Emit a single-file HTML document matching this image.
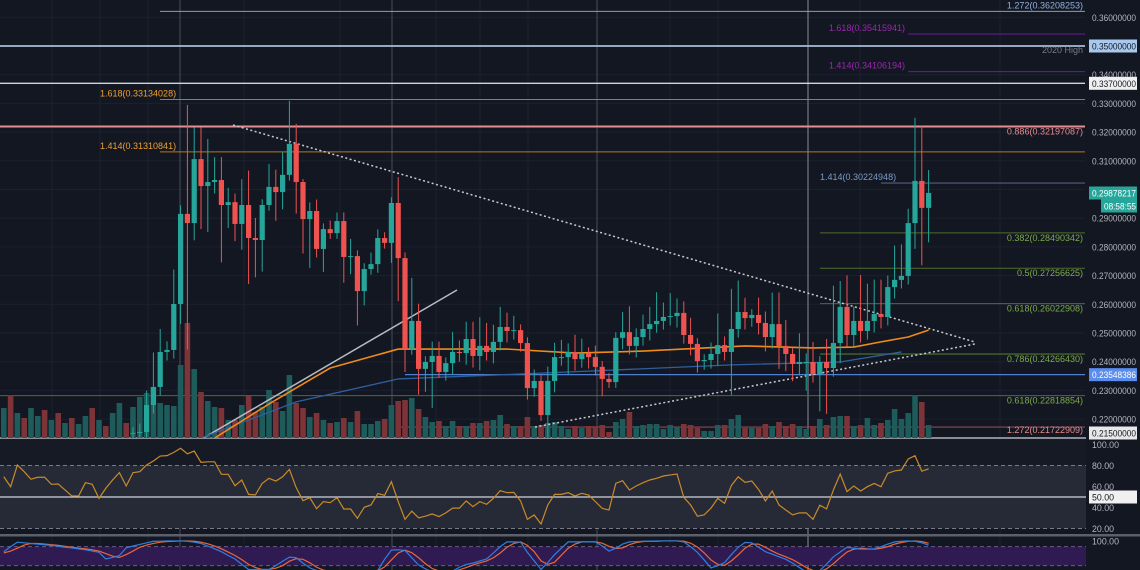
<!DOCTYPE html>
<html><head><meta charset="utf-8">
<style>
html,body{margin:0;padding:0;background:#131722;width:1140px;height:570px;overflow:hidden}
svg{display:block;font-family:"Liberation Sans",sans-serif}
</style></head>
<body>
<svg id="chart" width="1140" height="570" viewBox="0 0 1140 570" xmlns="http://www.w3.org/2000/svg">
<rect x="0" y="0" width="1140" height="570" fill="#131722"/>
<defs><clipPath id="mainClip"><rect x="0" y="0" width="1086" height="438"/></clipPath></defs>
<g id="grid"></g>
<g id="rsiPane"></g>
<g id="stochPane"></g>
<g id="levels"></g>
<g id="main" clip-path="url(#mainClip)"></g>
<g id="axis"></g>
</svg>
<script>
const firstOpen = 0.2150;
const closes = [.2152,.2155,.2249,.2312,.2434,.2441,.2601,.2915,.2883,.3106,
.3012,.3026,.3033,.2946,.2956,.2880,.2946,.2831,.2824,.2946,
.3009,.2991,.3051,.3159,.3026,.2897,.2925,.2793,.2862,.2848,
.2890,.2765,.2768,.2646,.2723,.2740,.2831,.2814,.2953,.2761,
.2444,.2542,.2375,.2399,.2420,.2364,.2395,.2434,.2430,.2479,
.2420,.2455,.2434,.2469,.2521,.2507,.2510,.2465,.2308,.2333,
.2214,.2333,.2416,.2416,.2434,.2409,.2430,.2416,.2382,.2340,
.2329,.2483,.2503,.2455,.2486,.2514,.2531,.2542,.2556,.2559,
.2570,.2493,.2462,.2402,.2406,.2427,.2458,.2434,.2514,.2573,
.2552,.2563,.2535,.2486,.2531,.2455,.2427,.2392,.2399,.2399,
.2357,.2399,.2378,.2465,.2591,.2493,.2542,.2507,.2542,.2566,
.2556,.2660,.2685,.2699,.2883,.3030,.2936,.2988];
const wickUp = [2,3,5,12,8,3,12,3,38,11,11,15,8,8,5,3,9,12,7,2,8,6,8,15,7,1,3,4,2,3,3,3,6,2,2,4,3,2,2,9,2,15,6,2,5,5,2,7,4,6,6,10,8,6,7,5,5,2,2,4,2,5,5,6,3,6,5,2,4,2,2,2,7,9,3,5,6,10,5,8,5,4,6,2,2,4,11,3,14,11,5,2,6,4,11,11,9,2,10,3,7,2,8,20,9,11,5,16,13,12,12,4,12,11,5,22,19,8];
const wickDn = [3,3,3,3,3,3,3,7,44,6,15,16,4,20,8,6,9,16,13,11,2,10,6,2,11,12,17,3,8,2,2,9,6,12,5,2,3,2,7,15,8,2,9,8,16,2,3,4,3,4,4,5,3,4,3,4,3,3,4,3,2,12,4,3,6,4,3,4,3,6,2,2,4,3,4,3,4,3,3,3,4,3,4,4,3,3,4,3,15,3,4,3,4,5,4,8,6,6,4,10,3,13,16,3,7,4,4,4,3,4,4,3,4,3,3,9,20,12];
const volumes = [31,41,45,51,35,33,32,73,115,69,46,37,31,30,18,18,33,42,26,31,48,36,27,63,35,30,21,25,18,15,16,20,16,27,14,14,17,19,33,37,38,40,29,21,
16,17,12,17,12,12,15,15,17,18,23,14,12,12,21,12,13,15,16,12,9,12,10,12,12,13,6,16,19,26,12,13,14,14,9,13,11,14,13,10,7,7,13,13,19,23,10,10,10,14,12,16,12,14,12,9,12,19,13,21,
22,22,12,13,20,13,15,18,29,19,25,43,36,13];
const preVolumes = [30,43,25,20,30,22,28,18,25,15,20,14,22,30,18,12,25,35,15];
const preDir = [1,-1,1,-1,1,1,-1,1,-1,1,-1,1,1,-1,1,-1,1,1,-1];
const emaIdx = [12,20,29,39,55,65,75,90,100,106,110,114,117];
const emaVals = [.2134,.2253,.2378,.2444,.2444,.2430,.2437,.2455,.2448,.2451,.2469,.2486,.2510];
const smaIdx = [10,24,39,64,88,104,113];
const smaVals = [.2134,.2260,.2340,.2364,.2389,.2399,.2434];
const rsiVals = [69.3,59.8,80.5,74.1,66.9,68.8,68.8,62.1,62.4,56.7,51.0,51.0,63.6,62.1,48.7,58.3,66.2,73.2,60.5,73.2,
74.1,80.5,84.3,89.0,89.4,92.5,96.4,91.1,93.8,83.0,83.5,83.5,71.6,71.6,60.8,66.2,52.5,52.0,63.0,67.8,
65.2,69.3,76.3,58.9,46.5,49.4,38.9,45.6,44.6,49.4,38.6,38.6,29.7,40.2,42.4,53.3,51.6,64.6,45.6,28.7,
36.5,30.2,31.7,33.9,31.4,34.9,39.4,39.4,
46.2,40.8,45.6,43.0,48.7,56.0,54.1,54.4,46.2,28.7,32.9,24.3,42.4,52.5,52.5,54.1,51.0,53.5,51.9,45.6,
39.2,37.6,63.0,65.5,56.7,60.5,63.6,66.2,67.8,70.0,71.0,71.9,49.7,42.4,31.7,33.0,39.4,48.7,44.0,61.0,
69.3,64.0,65.2,57.2,46.2,55.7,42.4,37.6,33.0,34.9,34.9,28.7,42.2,38.7,56.7,71.9,55.1,60.5,55.7,59.8,
62.9,59.8,72.6,74.8,75.7,86.2,89.3,74.6,76.8];
const stochK = [64,80,94,92,90,88,86,84,81,78,76,73,70,66,62,41,46,52,76,82,87,92,97,97,98,98,98,97,94,90,82,73,64,52,41,24,8,8,8,8,20,34,47,45,28,13,5,0,0,0,0,0,0,2,4,5,40,69,70,68,45,22,10,0,0,2,3,15,24,28,35,41,60,80,95,95,94,62,35,8,30,55,75,95,95,95,95,95,82,66,75,88,95,96,97,97,98,98,98,98,95,80,62,38,13,20,30,55,78,93,92,78,64,56,48,40,28,14,0,2,5,25,48,63,78,75,72,72,73,80,88,95,97,98,97,92,85];
const stochD = [60,66,75,85,90,90,88,86,84,81,78,75,73,70,66,58,50,46,55,66,78,85,90,94,96,97,98,98,97,94,89,82,73,63,52,39,24,14,8,8,12,20,34,42,40,29,15,6,2,0,0,0,0,1,2,4,16,38,60,69,61,45,26,11,3,1,2,7,14,22,29,35,45,60,78,90,95,84,64,35,24,31,53,75,88,95,95,95,91,81,74,76,86,93,96,97,97,98,98,98,97,91,79,60,38,24,21,35,54,75,88,88,78,66,56,48,39,27,14,5,2,10,26,45,63,72,75,73,72,75,80,88,93,97,98,96,91];
const priceTicks = [0.36,0.34,0.33,0.32,0.31,0.29,0.28,0.27,0.26,0.25,0.24,0.23,0.22];
const rsiTicks = [100,80,60,40,20];

const NS='http://www.w3.org/2000/svg';
const yP = p => 46 + (0.35 - p) * 2870;
const xC = i => 133 + i * 6.8;
const xAll = i => 3.8 + i * 6.8;
const yR = v => 497 - (v - 50) * 1.05;
const yS = v => 572 - v * 0.317;
function mk(tag, attrs, parent){const e=document.createElementNS(NS,tag);for(const k in attrs)e.setAttribute(k,attrs[k]);parent.appendChild(e);return e;}
const G=id=>document.getElementById(id);
const grid=G('grid'),main=G('main'),levels=G('levels'),axis=G('axis'),rsiPane=G('rsiPane'),stochPane=G('stochPane');

[0.36,0.35,0.34,0.33,0.32,0.31,0.30,0.29,0.28,0.27,0.26,0.25,0.24,0.23,0.22].forEach(p=>{
  const l=mk('line',{x1:0,x2:1085,y1:yP(p),y2:yP(p),stroke:'#1c2030','stroke-width':1},grid);
  
  
});
[52,100,148,244,340,436,480,528,670,718,860,1000].forEach(x=>{
  const l=mk('line',{x1:x,x2:x,y1:0,y2:570,stroke:'#1c2030','stroke-width':1},grid);
  
  
});
[[180,'#4a4e5a'],[392,'#4a4e5a'],[597,'#4a4e5a'],[808,'#8a8d96']].forEach(v=>{
  const l=mk('line',{x1:v[0],x2:v[0],y1:0,y2:570,stroke:v[1],'stroke-width':1},grid);
  
  
});

let top0=mk('rect',{x:0,y:439,width:1086,height:yR(80)-439,fill:'#161a25'},rsiPane);


let r=mk('rect',{x:0,y:yR(80),width:1086,height:yR(20)-yR(80),fill:'#262a36'},rsiPane);


[80,20].forEach(v=>{const l=mk('line',{x1:0,x2:1086,y1:yR(v),y2:yR(v),stroke:'#787b86','stroke-dasharray':'4 3'},rsiPane);

});
let mid=mk('line',{x1:0,x2:1086,y1:yR(50),y2:yR(50),stroke:'#d1d4dc','stroke-width':1.2},rsiPane);


let rp=mk('polyline',{points:rsiVals.map((v,i)=>xAll(i)+','+yR(v)).join(' '),fill:'none',stroke:'#c98a2a','stroke-width':1.2},rsiPane);


let sep=mk('rect',{x:0,y:534,width:1140,height:2.5,fill:'#5d606b'},rsiPane);



let sb=mk('rect',{x:0,y:yS(80),width:1086,height:yS(20)-yS(80),fill:'#2f1a52'},stochPane);


[80,20].forEach(v=>{const l=mk('line',{x1:0,x2:1086,y1:yS(v),y2:yS(v),stroke:'#6b5a8a','stroke-dasharray':'4 3'},stochPane);

});
let sd=mk('polyline',{points:stochD.map((v,i)=>xAll(i)+','+yS(v)).join(' '),fill:'none',stroke:'#e8683a','stroke-width':1.2},stochPane);


let sk=mk('polyline',{points:stochK.map((v,i)=>xAll(i)+','+yS(v)).join(' '),fill:'none',stroke:'#2f7fe0','stroke-width':1.2},stochPane);



function hline(p,x1,x2,color,w,name){const l=mk('line',{x1:x1,x2:x2,y1:yP(p),y2:yP(p),stroke:color,'stroke-width':w},levels);

}
function ltxt(x,y,t,color,anchor,name){const e=mk('text',{x:x,y:y,fill:color,'font-size':9,'text-anchor':anchor||'start'},levels);e.textContent=t;

}
hline(0.36208253,160,1085,'#8e9bb5',1,'fib-1272-upper-line');
ltxt(1083,yP(0.36208253)-3,'1.272(0.36208253)','#8fb0dc','end','fib-1272-upper-label');
hline(0.35415941,908,1085,'#6a1b9a',1,'fib-1618-purple-line');
ltxt(905,yP(0.35415941)-3,'1.618(0.35415941)','#9c27b0','end','fib-1618-purple-label');
hline(0.35,0,1085,'#a9bcd8',1.8,'2020-high-line');
ltxt(1083,53,'2020 High','#787b86','end','2020-high-label');
hline(0.34106194,908,1085,'#6a1b9a',1,'fib-1414-purple-line');
ltxt(905,yP(0.34106194)-3,'1.414(0.34106194)','#9c27b0','end','fib-1414-purple-label');
hline(0.337,0,1085,'#d1d4dc',1.3,'resistance-0337-line');
hline(0.33134028,160,1085,'#b9741c',1,'fib-1618-orange-line');
ltxt(100,yP(0.33134028)-3,'1.618(0.33134028)','#f0a030','start','fib-1618-orange-label');
hline(0.32197087,0,1085,'#e09090',2,'fib-0886-line');
ltxt(1083,yP(0.32197087)+8,'0.886(0.32197087)','#e88c8c','end','fib-0886-label');
hline(0.31310841,160,1085,'#b9741c',1,'fib-1414-orange-line');
ltxt(100,yP(0.31310841)-3,'1.414(0.31310841)','#f0a030','start','fib-1414-orange-label');
hline(0.30224948,881,1085,'#50607a',1.2,'fib-1414-blue-line');
ltxt(820,yP(0.30224948)-3,'1.414(0.30224948)','#7a9cc8','start','fib-1414-blue-label');
[[0.28490342,'0.382(0.28490342)'],[0.27256625,'0.5(0.27256625)'],[0.26022908,'0.618(0.26022908)'],[0.24266430,'0.786(0.24266430)']].forEach((f,k)=>{
  hline(f[0],820,1085,k==3?'#3e5a2e':'#4c6e2c',k==3?1.6:1,'fib-retrace-line');
  ltxt(1083,yP(f[0])+8,f[1],'#7cab4a','end','fib-retrace-label');
});
hline(0.23548386,405,1085,'#4f7fd0',1.2,'support-blue-line');
hline(0.22818854,0,1085,'#4c6e2c',1,'fib-0618-lower-line');
ltxt(1083,yP(0.22818854)+8,'0.618(0.22818854)','#7cab4a','end','fib-0618-lower-label');
hline(0.21722909,400,1085,'#8a4a52',1.2,'fib-1272-lower-line');
ltxt(1083,yP(0.21722909)+6,'1.272(0.21722909)','#e88c8c','end','fib-1272-lower-label');

preVolumes.forEach((v,i)=>{const b=mk('rect',{x:xAll(i)-2.8,y:438-v,width:5.6,height:v,fill:preDir[i]>0?'#1d5c5a':'#7d3439'},main);

});
volumes.forEach((v,i)=>{const o=i?closes[i-1]:firstOpen;const b=mk('rect',{x:xC(i)-2.8,y:438-v,width:5.6,height:v,fill:closes[i]>=o?'#1d5c5a':'#7d3439'},main);

});

let tl=mk('line',{x1:200,y1:440,x2:457,y2:290,stroke:'#b8bbc4','stroke-width':1.5},main);


let t1=mk('line',{x1:233,y1:125,x2:975,y2:342,stroke:'#c8cad0','stroke-width':1.5,'stroke-dasharray':'2 2.5'},main);


let t2=mk('line',{x1:535,y1:427,x2:975,y2:344,stroke:'#c8cad0','stroke-width':1.5,'stroke-dasharray':'2 2.5'},main);



let sma=mk('polyline',{points:smaIdx.map((k,j)=>xC(k)+','+yP(smaVals[j])).join(' '),fill:'none',stroke:'#2f5f9e','stroke-width':1.3},main);


let ema=mk('polyline',{points:emaIdx.map((k,j)=>xC(k)+','+yP(emaVals[j])).join(' '),fill:'none',stroke:'#f08a1a','stroke-width':1.6},main);



closes.forEach((c,i)=>{
  const o=i?closes[i-1]:firstOpen;const up=c>=o;const col=up?'#26a69a':'#ef5350';
  const hi=Math.max(o,c)+wickUp[i]/1000, lo=Math.min(o,c)-wickDn[i]/1000;
  const g=mk('g',{},main);
  
  
  mk('line',{x1:xC(i),x2:xC(i),y1:yP(hi),y2:yP(lo),stroke:col,'stroke-width':1},g);
  const top=yP(Math.max(o,c)),h=Math.max(1,yP(Math.min(o,c))-top);
  mk('rect',{x:xC(i)-2.6,y:top,width:5.2,height:h,fill:col},g);
});
let bl=mk('line',{x1:0,x2:1086,y1:438,y2:438,stroke:'#d1d4dc','stroke-width':1.2},levels);



function atxt(y,t,name,len){const e=mk('text',{x:1092,y:y+3.5,fill:'#b2b5be','font-size':9,textLength:len||44,lengthAdjust:'spacingAndGlyphs'},axis);e.textContent=t;

return e;}
priceTicks.forEach(p=>atxt(yP(p),p.toFixed(8),'price-tick'));
function box(y,t,bg,fg,name,x,len){x=x||1089;const g=mk('g',{},axis);


mk('rect',{x:x,y:y-6.5,width:1137-x,height:13,fill:bg},g);
const e=mk('text',{x:x+3,y:y+3.5,fill:fg,'font-size':9,textLength:len||44,lengthAdjust:'spacingAndGlyphs'},g);e.textContent=t;}
box(yP(0.35),'0.35000000','#a8c8ee','#131722','price-label-2020-high');
box(yP(0.337),'0.33700000','#f0f0f0','#131722','price-label-0337');
box(193,'0.29878217','#26a69a','#ffffff','last-price-label');
box(206,'08:58:55','#26a69a','#ffffff','countdown-label',1101,32);
box(yP(0.23548386),'0.23548386','#5b8def','#ffffff','price-label-support');
box(433,'0.21500000','#e8e8e8','#131722','price-label-0215');
rsiTicks.forEach(v=>atxt(yR(v),v.toFixed(2),'rsi-tick',v==100?27:22));
box(yR(50),'50.00','#f0f0f0','#131722','rsi-label-50',1089,22);
atxt(541,'100.00','stoch-tick',27);
</script>
</body></html>
